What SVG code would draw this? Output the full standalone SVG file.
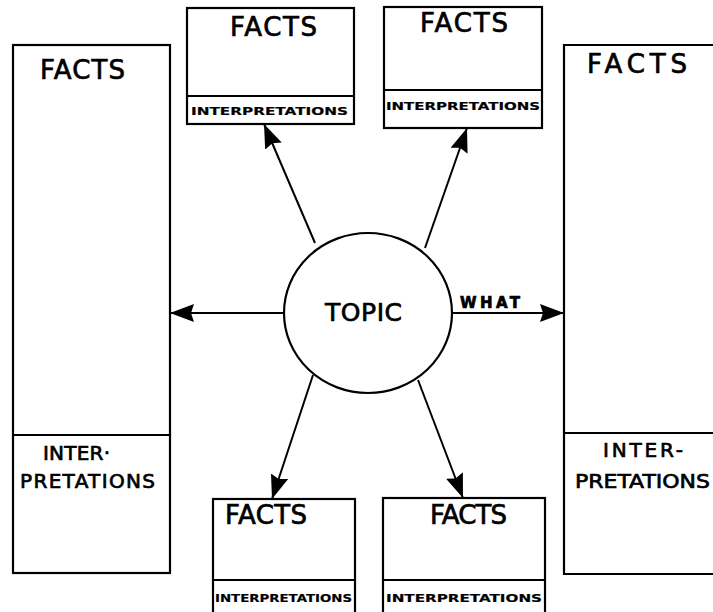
<svg xmlns="http://www.w3.org/2000/svg" width="713" height="612" viewBox="0 0 713 612">
<style>
.box{fill:#fff;stroke:#000;stroke-width:2.2}
.div{stroke:#000;stroke-width:2}
.t{font-family:"DejaVu Sans",sans-serif;fill:#000;stroke:#000;stroke-width:0.7}
.big{font-size:26px}
.mid{font-size:20px}
.sm{font-size:11px;font-weight:bold;stroke-width:0.2}
.conn{stroke:#000;stroke-width:2;fill:none}
</style>
<defs>
<marker id="ah" markerUnits="userSpaceOnUse" markerWidth="26" markerHeight="20" refX="24" refY="9" orient="auto">
<path d="M0,0 L24,9 L0,18 L3,9 z" fill="#000"/>
</marker>
</defs>
<rect width="713" height="612" fill="#fff"/>
<g id="node-left">
<rect class="box" x="13" y="45" width="157" height="528"/>
<line class="div" x1="13" y1="435" x2="170" y2="435"/>
<text class="t big" x="40" y="79" textLength="85">FACTS</text>
<text class="t mid" x="43" y="460" textLength="67">INTER·</text>
<text class="t mid" x="20" y="488" textLength="135">PRETATIONS</text>
</g>
<g id="node-right">
<path class="box" d="M720,45 L564,45 L564,574 L720,574"/>
<line class="div" x1="564" y1="433" x2="713" y2="433"/>
<text class="t big" x="587" y="73" textLength="100">FACTS</text>
<text class="t mid" x="603" y="457" textLength="80">INTER-</text>
<text class="t mid" x="575" y="488" textLength="135" lengthAdjust="spacingAndGlyphs">PRETATIONS</text>
</g>
<g id="node-top-left">
<rect class="box" x="187" y="8" width="167" height="116"/>
<line class="div" x1="187" y1="96" x2="354" y2="96"/>
<text class="t big" x="230" y="36" textLength="87">FACTS</text>
<text class="t sm" x="191" y="115" textLength="157" lengthAdjust="spacingAndGlyphs">INTERPRETATIONS</text>
</g>
<g id="node-top-right">
<rect class="box" x="384" y="7" width="158" height="121"/>
<line class="div" x1="384" y1="90" x2="542" y2="90"/>
<text class="t big" x="420" y="32" textLength="88">FACTS</text>
<text class="t sm" x="386" y="110" textLength="154" lengthAdjust="spacingAndGlyphs">INTERPRETATIONS</text>
</g>
<g id="node-bottom-left">
<rect class="box" x="213" y="499" width="142" height="130"/>
<line class="div" x1="213" y1="580" x2="355" y2="580"/>
<text class="t big" x="225" y="524" textLength="82">FACTS</text>
<text class="t sm" x="215" y="602" textLength="137" lengthAdjust="spacingAndGlyphs">INTERPRETATIONS</text>
</g>
<g id="node-bottom-right">
<rect class="box" x="383" y="498" width="162" height="130"/>
<line class="div" x1="383" y1="580" x2="545" y2="580"/>
<text class="t big" x="430" y="524" textLength="77">FACTS</text>
<text class="t sm" x="386" y="602" textLength="156" lengthAdjust="spacingAndGlyphs">INTERPRETATIONS</text>
</g>
<g id="node-topic">
<ellipse cx="368" cy="313" rx="84" ry="80" fill="#fff" stroke="#000" stroke-width="2.2"/>
<text class="t" x="325" y="321" font-size="25" textLength="77">TOPIC</text>
</g>
<g id="connectors">
<line class="conn" x1="284" y1="313" x2="170" y2="313" marker-end="url(#ah)"/>
<line class="conn" x1="452" y1="313" x2="564" y2="313" marker-end="url(#ah)"/>
<line class="conn" x1="315" y1="243" x2="264" y2="124" marker-end="url(#ah)"/>
<line class="conn" x1="425" y1="248" x2="467" y2="128" marker-end="url(#ah)"/>
<line class="conn" x1="313" y1="375" x2="272" y2="499" marker-end="url(#ah)"/>
<line class="conn" x1="418" y1="380" x2="463" y2="498" marker-end="url(#ah)"/>
<text class="t" x="460" y="308" font-size="15" font-weight="bold" stroke-width="0.2" textLength="60">WHAT</text>
</g>
</svg>
